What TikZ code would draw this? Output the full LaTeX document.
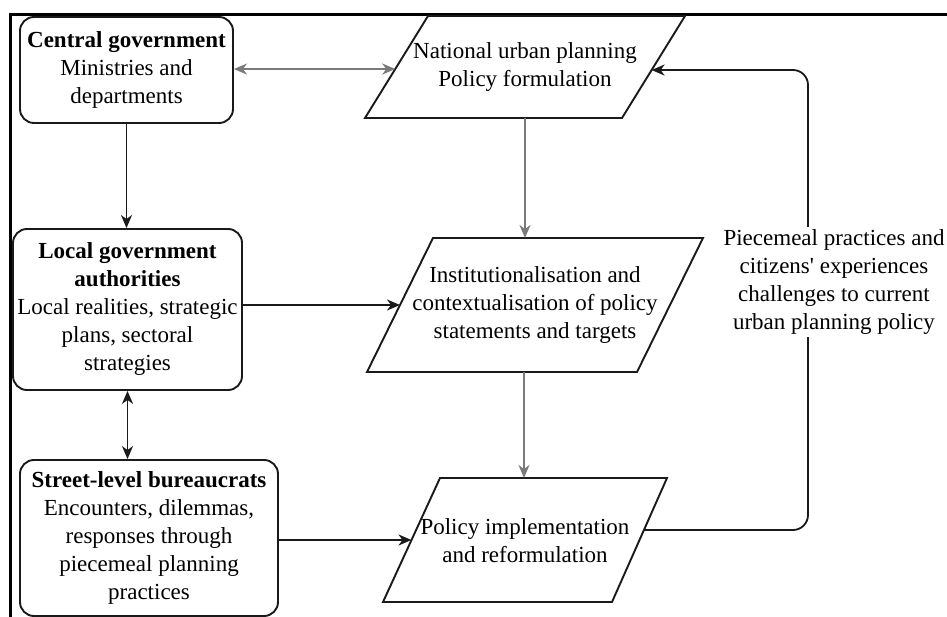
\documentclass[tikz,border=0pt]{standalone}
\usepackage{fontspec}
\setmainfont{Liberation Serif}
\usetikzlibrary{arrows.meta,calc}
\definecolor{linkgrey}{HTML}{7A7A7A}
\definecolor{edgeblack}{HTML}{1A1A1A}
\begin{document}
\begin{tikzpicture}[x=1pt,y=-1pt,
  every node/.style={font=\rmfamily\fontsize{23}{28}\selectfont, align=center, inner sep=0pt},
  actor/.style={draw=edgeblack, line width=1.9pt, rounded corners=14pt},
  para/.style={draw=edgeblack, line width=1.9pt, line join=miter},
  link/.style={draw=edgeblack, line width=1.8pt, -{Stealth[length=13pt,width=11pt,inset=4pt]}},
  twoway/.style={draw=edgeblack, line width=1.8pt, {Stealth[length=13pt,width=11pt,inset=4pt]}-{Stealth[length=13pt,width=11pt,inset=4pt]}},
  greylink/.style={link, draw=linkgrey},
  greytwoway/.style={twoway, draw=linkgrey},
  feedback/.style={draw=edgeblack, line width=1.8pt, rounded corners=15pt, -{Stealth[length=13pt,width=11pt,inset=4pt]}}]
\useasboundingbox (0,0) rectangle (947,617);

% outer frame (top and left edges)
\draw[line width=3pt, black] (10,617) -- (10,15) -- (947,15);

% actors
\node[actor, minimum width=213pt, minimum height=106pt] (cg) at (126.5,70)
  {\textbf{Central government}\\Ministries and\\departments};
\node[actor, minimum width=229pt, minimum height=161pt] (lg) at (127.5,309.5)
  {\textbf{Local government}\\\textbf{authorities}\\Local realities, strategic\\plans, sectoral\\strategies};
\node[actor, minimum width=258pt, minimum height=156pt] (slb) at (149,538)
  {\textbf{Street-level bureaucrats}\\Encounters, dilemmas,\\responses through\\piecemeal planning\\practices};

% policy stages: parallelogram corners
\coordinate (nat-tl) at (428,16);  \coordinate (nat-tr) at (685,16);
\coordinate (nat-br) at (622,118); \coordinate (nat-bl) at (365,118);
\coordinate (inst-tl) at (433,238); \coordinate (inst-tr) at (703,238);
\coordinate (inst-br) at (637,372); \coordinate (inst-bl) at (367,372);
\coordinate (impl-tl) at (440,478); \coordinate (impl-tr) at (667,478);
\coordinate (impl-br) at (612,602); \coordinate (impl-bl) at (383,602);

\draw[para] (nat-tl) -- (nat-tr) -- (nat-br) -- (nat-bl) -- cycle;
\draw[para] (inst-tl) -- (inst-tr) -- (inst-br) -- (inst-bl) -- cycle;
\draw[para] (impl-tl) -- (impl-tr) -- (impl-br) -- (impl-bl) -- cycle;

\node (nat) at (525,67) {National urban planning\\Policy formulation};
\node (inst) at (535,305) {Institutionalisation and\\contextualisation of policy\\statements and targets};
\node (impl) at (525,541) {Policy implementation\\and reformulation};

% connection points on the parallelogram edges
\coordinate (natL) at ($(nat-bl)!0.48!(nat-tl)$);
\coordinate (natR) at ($(nat-br)!0.47!(nat-tr)$);
\coordinate (natB) at (525,118);
\coordinate (instT) at (525,238);
\coordinate (instL) at ($(inst-bl)!0.5!(inst-tl)$);
\coordinate (instB) at (524,372);
\coordinate (implT) at (524,478);
\coordinate (implL) at ($(impl-bl)!0.5!(impl-tl)$);
\coordinate (implR) at ($(impl-br)!0.58!(impl-tr)$);
\coordinate (fbB) at (808,530);
\coordinate (fbT) at (808,70);

% connectors
\draw[link] (cg.south) -- (cg.south |- lg.north);
\draw[twoway] (lg.south) -- (lg.south |- slb.north);
\draw[greytwoway] (cg.east |- natL) -- (natL);
\draw[link] (lg.east |- instL) -- (instL);
\draw[link] (slb.east |- implL) -- (implL);
\draw[greylink] (natB) -- (instT);
\draw[greylink] (instB) -- (implT);
\draw[feedback] (implR) -- (fbB) -- (fbT) -- (natR);

% feedback label
\node[fill=white, inner xsep=2pt, inner ysep=3pt] (fblabel) at (834,282)
  {Piecemeal practices and\\citizens\textquotesingle{} experiences\\challenges to current\\urban planning policy};
\end{tikzpicture}
\end{document}
